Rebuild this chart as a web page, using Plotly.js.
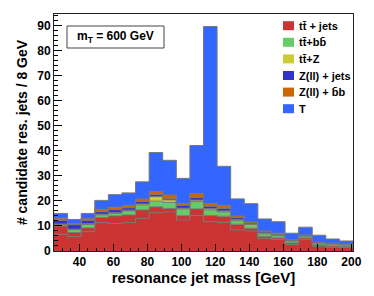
<!DOCTYPE html>
<html><head><meta charset="utf-8">
<script src="https://cdn.plot.ly/plotly-3.0.1.min.js"></script>
<style>html,body{margin:0;padding:0;background:#fff}#c{width:374px;height:296px}</style>
</head><body><div id="c"></div>
<script>
// bin centers (GeV), 8 GeV bins
const binCenters = [29,37,45,53,61,69,77,85,93,101,109,117,125,133,141,149,157,165,173,181,189,197];
// stacked components, bottom to top
const ttJetsA = [6.7,5.7,7.7,11.3,11.0,11.3,13.0,15.3,15.6,12.4,14.2,11.7,11.5,8.4,8.0,5.1,4.6,2.6,4.5,1.8,1.5,1.4];
const ttJetsB = [3.3,1.7,1.5,2.1,3.0,3.1,3.4,2.3,1.4,1.7,2.6,2.5,2.4,2.3,1.1,0.8,0.6,0.6,0.7,0.6,0.5,0.4];
const ttbb    = [0.6,1.1,1.4,1.0,1.0,1.6,2.0,2.3,2.4,2.6,2.9,2.2,1.7,1.4,1.5,1.0,0.9,0.8,0.7,0.7,0.7,0.6];
const ttZ     = [0.2,0.2,0.3,0.3,0.3,0.3,0.4,1.8,1.0,0.4,0.6,0.5,0.4,0.4,0.2,0.3,0.2,0.1,0.1,0.1,0.1,0.1];
const zJets   = [1.5,1.8,1.3,1.0,1.2,0.9,1.0,0.8,0.5,1.2,1.0,1.0,1.0,0.8,0.4,0.4,0.3,0.2,0.2,0.1,0.1,0.1];
const zbb     = [0.8,0.4,0.7,1.0,1.0,1.0,1.0,1.2,1.5,0.7,1.7,1.1,1.2,0.7,0.4,0.4,0.5,0.2,0.2,0.2,0.2,0.2];
const tSignal = [1.9,1.7,2.1,3.5,5.0,5.0,6.8,15.6,13.8,10.0,19.1,70.6,15.6,6.8,7.3,4.8,4.6,2.6,3.1,2.8,1.7,1.2];

const layerNames  = ['tt̄ + jets (a)','tt̄ + jets','tt̄+bb̄','tt̄+Z','Z(ll) + jets','Z(ll) + b̄b','T'];
const layerColors = ['#cc3333','#cc3333','#66cc66','#cccc33','#3333cc','#cc6600','#3366ff'];
const layers = [ttJetsA, ttJetsB, ttbb, ttZ, zJets, zbb, tSignal];

const legendLabels = ['tt̄ + jets','tt̄+bb̄','tt̄+Z','Z(ll) + jets','Z(ll) + b̄b','T'];
const legendColors = ['#cc3333','#66cc66','#cccc33','#3333cc','#cc6600','#3366ff'];

const w = binCenters[1]-binCenters[0];
const edges = binCenters.map(c=>c-w/2).concat([binCenters[binCenters.length-1]+w/2]);

const traces = [];
let cum = binCenters.map(()=>0);
layers.forEach((arr,i)=>{
  cum = cum.map((v,k)=>v+arr[k]);
  const ys = cum.concat([cum[cum.length-1]]);
  traces.push({
    type:'scatter', mode:'lines', x:edges, y:ys, name:layerNames[i],
    line:{shape:'hv', color:'#777777', width:1},
    fill: i===0 ? 'tozeroy' : 'tonexty', fillcolor:layerColors[i],
    showlegend:false, hoverinfo:'skip'
  });
});

const F = {family:'Liberation Sans, Arial, sans-serif', weight:'bold', color:'#000'};
const plotTop=14, plotBot=251, plotL=54, plotR=353;
const py = px => (plotBot-px)/(plotBot-plotTop);
const pxr = px => (px-plotL)/(plotR-plotL);

const shapes = [
  {type:'rect', xref:'paper', yref:'paper', x0:pxr(67), x1:pxr(164), y0:py(48), y1:py(26),
   line:{color:'#444', width:1}, fillcolor:'#fff'}
];
const annotations = [
  {xref:'paper', yref:'paper', x:pxr(115.5), y:py(37), xanchor:'center', yanchor:'middle',
   text:'m<sub>T</sub> = 600 GeV', showarrow:false, font:Object.assign({}, F, {size:12})}
];
legendLabels.forEach((lab,i)=>{
  const yc = 25.7 + 16.6*i;
  shapes.push({type:'rect', xref:'paper', yref:'paper', x0:pxr(283), x1:pxr(294), y0:py(yc+4.5), y1:py(yc-4.5),
    line:{width:0}, fillcolor:legendColors[i]});
  annotations.push({xref:'paper', yref:'paper', x:pxr(297), y:py(yc), xanchor:'left', yanchor:'middle',
    text:lab, showarrow:false, font:Object.assign({}, F, {size:11})});
});

const layout = {
  width:374, height:296,
  margin:{l:plotL, r:374-plotR, t:plotTop, b:296-plotBot},
  paper_bgcolor:'#fff', plot_bgcolor:'#fff',
  showlegend:false,
  xaxis:{range:[25,201], showgrid:false, zeroline:false, showline:true, mirror:true, linecolor:'#222', linewidth:1,
    ticks:'inside', ticklen:7, tickcolor:'#000', dtick:20, tick0:0,
    minor:{ticks:'inside', ticklen:3.5, dtick:5, tickcolor:'#000'},
    tickfont:Object.assign({}, F, {size:12}),
    title:{text:'resonance jet mass [GeV]', font:Object.assign({}, F, {size:15}), standoff:4}},
  yaxis:{range:[0,94.6], showgrid:false, zeroline:false, showline:true, mirror:true, linecolor:'#222', linewidth:1,
    ticks:'inside', ticklen:8, tickcolor:'#000', dtick:10, tick0:0,
    minor:{ticks:'inside', ticklen:4, dtick:2, tickcolor:'#000'},
    tickfont:Object.assign({}, F, {size:12}),
    title:{text:'# candidate res. jets / 8 GeV', font:Object.assign({}, F, {size:14}), standoff:6}},
  shapes:shapes, annotations:annotations
};
Plotly.newPlot('c', traces, layout, {displayModeBar:false, staticPlot:true});
</script></body></html>
